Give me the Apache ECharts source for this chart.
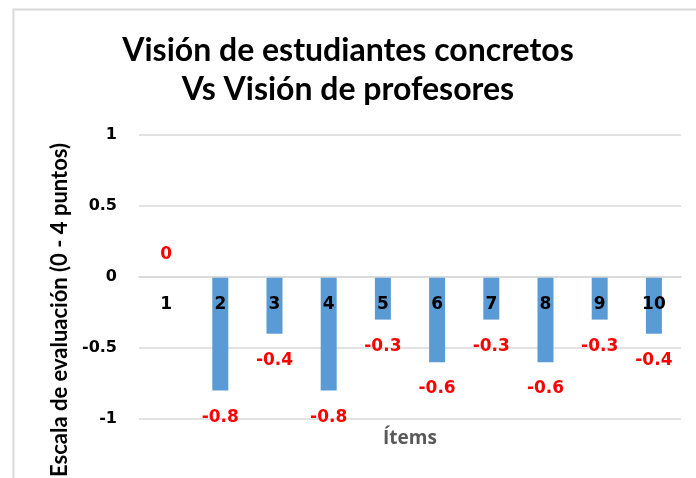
<!DOCTYPE html>
<html>
<head>
<meta charset="utf-8">
<script src="https://cdn.jsdelivr.net/npm/echarts@6/dist/echarts.min.js"></script>
<style>
  html, body { margin: 0; padding: 0; background: #fff; }
  #box { width: 696px; height: 478px; }
</style>
</head>
<body>
<div id="box"></div>
<script>
// datos del gráfico
const items = ['1', '2', '3', '4', '5', '6', '7', '8', '9', '10'];
const diferencias = [0, -0.8, -0.4, -0.8, -0.3, -0.6, -0.3, -0.6, -0.3, -0.4];
const yTicks = [-1, -0.5, 0, 0.5, 1];

let myecharts = echarts.init(document.getElementById('box'));

let options = {
  animation: false,
  backgroundColor: '#fff',
  title: {
    text: 'Visión de estudiantes concretos\nVs Visión de profesores',
    left: 'center',
    top: 26,
    textStyle: {
      fontFamily: 'Lato',
      fontWeight: 'bold',
      fontSize: 32,
      lineHeight: 39,
      color: '#000'
    }
  },
  grid: {
    left: 139,
    right: 15,
    top: 135,
    bottom: 59,
    containLabel: false,
    outerBoundsMode: 'none'
  },
  xAxis: {
    type: 'category',
    data: items,
    z: 10,
    position: 'bottom',
    // eje sobre el cero (mitad de la rejilla)
    offset: -142,
    name: 'Ítems',
    nameLocation: 'middle',
    nameGap: 152,
    nameTextStyle: {
      fontFamily: 'Open Sans',
      fontWeight: 'bold',
      fontSize: 19,
      color: '#595959'
    },
    axisLine: { show: true, onZero: false, lineStyle: { color: '#d9d9d9', width: 1.5 } },
    axisTick: { show: false },
    axisLabel: {
      margin: 19,
      fontFamily: 'DejaVu Sans',
      fontWeight: 'bold',
      fontSize: 17,
      color: '#000'
    }
  },
  yAxis: {
    type: 'value',
    min: yTicks[0],
    max: yTicks[yTicks.length - 1],
    interval: 0.5,
    name: 'Escala de evaluación (0 - 4 puntos)',
    nameLocation: 'middle',
    nameGap: 68,
    nameTextStyle: {
      fontFamily: 'Lato',
      fontWeight: 'bold',
      fontSize: 22,
      color: '#000',
      padding: [0, 66, 0, 0]
    },
    axisLine: { show: false },
    axisTick: { show: false },
    splitLine: { lineStyle: { color: '#d9d9d9', width: 1.5 } },
    axisLabel: {
      margin: 22,
      fontFamily: 'DejaVu Sans',
      fontWeight: 'bold',
      fontSize: 16,
      color: '#000'
    }
  },
  series: [{
    type: 'bar',
    barWidth: 16,
    itemStyle: { color: '#5b9bd5' },
    data: diferencias.map(v => ({
      value: v,
      label: { position: v < 0 ? 'bottom' : 'top', distance: v < 0 ? 18 : 14 }
    })),
    label: {
      show: true,
      fontFamily: 'DejaVu Sans',
      fontWeight: 'bold',
      fontSize: 17,
      color: '#ff0000'
    }
  }],
  graphic: [{
    type: 'rect',
    left: 11,
    top: 7,
    shape: { width: 720, height: 520 },
    style: { fill: null, stroke: '#d9d9d9', lineWidth: 2 },
    silent: true
  }]
};

myecharts.setOption(options);
window.onresize = function () {
  myecharts.resize();
};
</script>
</body>
</html>
